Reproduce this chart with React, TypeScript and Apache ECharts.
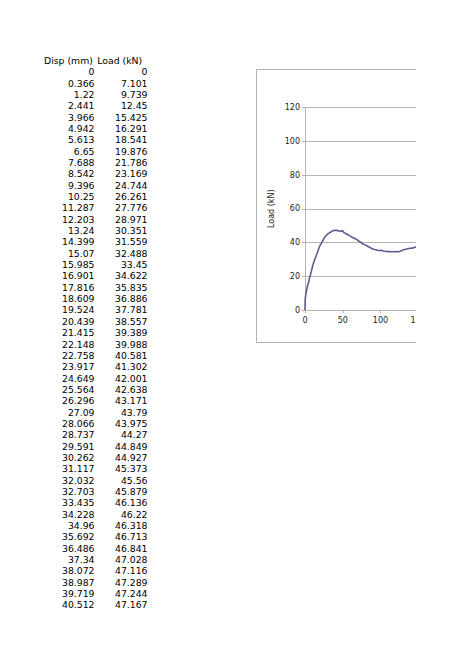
import { useEffect, useRef } from "react";
import * as echarts from "echarts";
import type { ECharts } from "echarts";

// values as printed in the sheet
const dispMm = [
  0, 0.366, 1.22, 2.441, 3.966, 4.942, 5.613, 6.65, 7.688, 8.542, 9.396, 10.25,
  11.287, 12.203, 13.24, 14.399, 15.07, 15.985, 16.901, 17.816, 18.609, 19.524,
  20.439, 21.415, 22.148, 22.758, 23.917, 24.649, 25.564, 26.296, 27.09, 28.066,
  28.737, 29.591, 30.262, 31.117, 32.032, 32.703, 33.435, 34.228, 34.96, 35.692,
  36.486, 37.34, 38.072, 38.987, 39.719, 40.512,
];
const loadKn = [
  0, 7.101, 9.739, 12.45, 15.425, 16.291, 18.541, 19.876, 21.786, 23.169, 24.744,
  26.261, 27.776, 28.971, 30.351, 31.559, 32.488, 33.45, 34.622, 35.835, 36.886,
  37.781, 38.557, 39.389, 39.988, 40.581, 41.302, 42.001, 42.638, 43.171, 43.79,
  43.975, 44.27, 44.849, 44.927, 45.373, 45.56, 45.879, 46.136, 46.22, 46.318,
  46.713, 46.841, 47.028, 47.116, 47.289, 47.244, 47.167,
];

// rest of the curve (rows beyond this page)
const tailDisp = [
  41.3, 42.2, 43.0, 43.9, 44.8, 45.6, 46.5, 47.4, 48.3, 49.1, 50.0, 50.8, 51.7,
  52.6, 54.0, 55.5, 57.0, 58.5, 60.0, 61.5, 63.0, 64.5, 66.0, 67.5, 69.0, 70.5,
  72.0, 73.5, 75.0, 76.5, 78.0, 79.5, 81.0, 82.5, 84.0, 85.5, 87.0, 88.5, 90.0,
  92.0, 94.0, 96.0, 98.0, 100.0, 101.5, 103.0, 105.0, 107.0, 109.0, 111.0, 113.0,
  115.0, 117.0, 119.0, 121.0, 123.0, 125.0, 127.0, 129.0, 131.0, 133.0, 135.0,
  137.0, 139.0, 141.0, 143.0, 145.0, 147.0, 149.0, 151.0, 153.0,
];
const tailLoad = [
  47.1, 47.2, 47.0, 46.9, 47.0, 46.8, 46.9, 46.6, 46.5, 46.9, 47.1, 46.3, 45.8,
  45.6, 45.3, 44.9, 44.6, 44.2, 43.8, 43.4, 43.0, 42.7, 42.4, 42.0, 41.6, 41.1,
  40.6, 40.2, 39.6, 39.2, 38.9, 38.6, 38.3, 37.9, 37.5, 37.2, 36.8, 36.5, 36.2,
  35.9, 35.7, 35.4, 35.3, 35.2, 35.4, 35.1, 34.8, 34.7, 34.8, 34.6, 34.5, 34.6,
  34.5, 34.5, 34.6, 34.5, 34.7, 35.0, 35.4, 35.7, 36.0, 36.2, 36.4, 36.5, 36.6,
  36.8, 37.1, 37.4, 37.6, 37.8, 38.0,
];

const headers = ["Disp (mm)", "Load (kN)"];
const yTicks = { min: 0, max: 120, interval: 20 };
const xTicks = { min: 0, max: 150, interval: 50 };

const FONT = '"DejaVu Sans", Verdana, sans-serif';

const App = () => {
  const containerRef = useRef<HTMLDivElement>(null);
  const chartRef = useRef<ECharts>();

  useEffect(() => {
    if (!containerRef.current) return;
    const chart = echarts.init(containerRef.current, undefined, { renderer: "svg" });
    chartRef.current = chart;

    // spreadsheet cells
    const rowH = 11.34;
    const top = 60.5;
    const cellStyle = { fill: "#000", fontSize: 9.3, fontFamily: FONT, verticalAlign: "middle" };
    const cells: any[] = [
      { type: "text", style: { ...cellStyle, text: headers[0], x: 44, y: top, align: "left" } },
      { type: "text", style: { ...cellStyle, text: headers[1], x: 97.3, y: top, align: "left" } },
    ];
    dispMm.forEach((d, i) => {
      const y = top + (i + 1) * rowH;
      cells.push({ type: "text", style: { ...cellStyle, text: String(d), x: 94.5, y, align: "right" } });
      cells.push({ type: "text", style: { ...cellStyle, text: String(loadKn[i]), x: 147.5, y, align: "right" } });
    });

    const points = [
      ...dispMm.map((d, i) => [d, loadKn[i]]),
      ...tailDisp.map((d, i) => [d, tailLoad[i]]),
    ];

    chart.setOption({
      animation: false,
      grid: { left: 305, top: 107.5, width: 113.25, height: 202.5 },
      graphic: [
        ...cells,
        {
          type: "rect",
          shape: { x: 256.5, y: 69.5, width: 300, height: 273 },
          style: { fill: "none", stroke: "#b3b3b3", lineWidth: 1 },
        },
      ],
      xAxis: {
        type: "value",
        ...xTicks,
        axisLine: { show: true, lineStyle: { color: "#b3b3b3" } },
        axisTick: { show: true, length: 3, lineStyle: { color: "#b3b3b3" } },
        axisLabel: { color: "#1a1a1a", fontSize: 8, fontFamily: FONT, margin: 6 },
        splitLine: { show: false },
      },
      yAxis: {
        type: "value",
        ...yTicks,
        name: "Load (kN)",
        nameLocation: "middle",
        nameGap: 30,
        nameTextStyle: { color: "#1a1a1a", fontSize: 8, fontFamily: FONT },
        axisLine: { show: true, lineStyle: { color: "#b3b3b3" } },
        axisTick: { show: true, length: 3, lineStyle: { color: "#b3b3b3" } },
        axisLabel: { color: "#1a1a1a", fontSize: 8, fontFamily: FONT, margin: 5 },
        splitLine: { show: true, lineStyle: { color: "#b3b3b3" } },
      },
      series: [
        {
          type: "line",
          data: points,
          showSymbol: false,
          symbol: "none",
          lineStyle: { color: "#5b5b92", width: 1.6 },
        },
      ],
    });

    return () => {
      chart.dispose();
    };
  }, []);

  return (
    <div
      style={{
        position: "absolute",
        left: 0,
        top: 0,
        width: 416,
        height: 670,
        overflow: "hidden",
        background: "#fff",
      }}
    >
      <div ref={containerRef} style={{ width: 474, height: 670 }} />
    </div>
  );
};

export default App;
